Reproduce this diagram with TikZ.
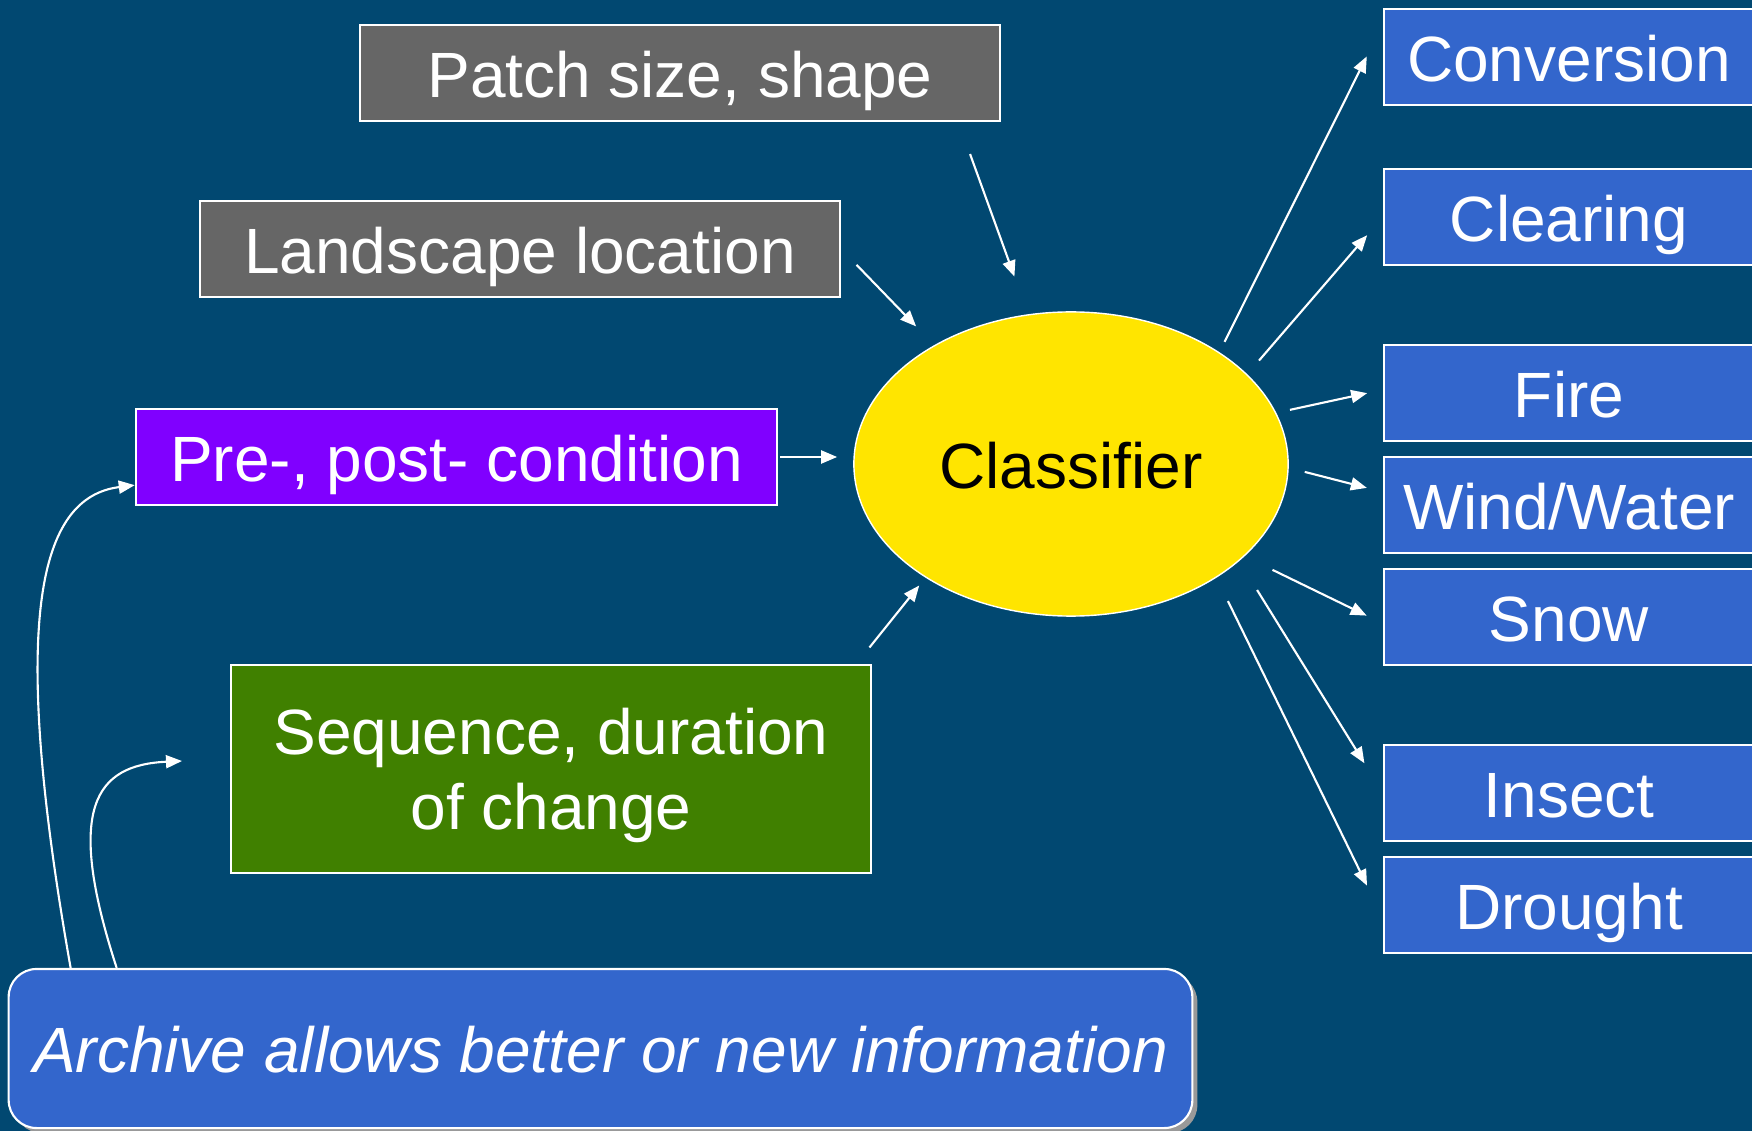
\documentclass[tikz,border=0pt]{standalone}
\usepackage{fontspec}
\setmainfont{Liberation Sans}
\usetikzlibrary{arrows.meta,shapes.geometric,shadows}
\definecolor{slidebg}{HTML}{014871}
\definecolor{boxgrey}{HTML}{666666}
\definecolor{boxblue}{HTML}{3366CC}
\definecolor{boxpurple}{HTML}{8000FF}
\definecolor{boxgreen}{HTML}{408000}
\definecolor{clfyellow}{HTML}{FFE500}
\tikzset{
  box/.style={draw=white, line width=0.6pt, text=white, inner sep=0pt,
    minimum height=0.96cm, align=center, text height=13.8pt, text depth=0pt,
    font=\fontsize{18.2}{21.3}\selectfont},
  greybox/.style={box, fill=boxgrey, minimum width=6.4cm},
  outbox/.style={box, fill=boxblue, minimum width=3.7cm},
  arr/.style={white, line width=0.6pt, -{Triangle[length=0.16cm,width=0.13cm]}},
}
\begin{document}
\begin{tikzpicture}[x=0.01cm, y=-0.01cm]
      \fill[slidebg] (0,0) rectangle (1752,1131);
      \useasboundingbox (0,0) rectangle (1752,1131);
      % --- inputs ---
      \node[greybox] (patch) at (680,73) {Patch size, shape};
      \node[greybox] (land) at (520,249) {Landscape location};
      \node[box, fill=boxpurple, minimum width=6.41cm] (pre) at (456.5,457) {Pre-, post- condition};
      \node[box, fill=boxgreen, minimum width=6.4cm, minimum height=2.08cm,
        text height={}] (seq) at (551,769) {Sequence, duration\\of change};
      % --- classifier ---
      \node[ellipse, draw=white, line width=0.4pt, fill=clfyellow, inner sep=0pt,
        minimum width=4.34cm, minimum height=3.04cm, text height=13.8pt, text depth=0pt,
        font=\fontsize{18.2}{22}\selectfont] (clf) at (1071,464) {Classifier};
      % --- outputs ---
      \foreach \name/\y/\txt in {conv/57/Conversion, clr/217/Clearing, fire/393/Fire,
          wind/505/Wind\slash Water, snow/617/Snow, ins/793/Insect, dr/905/Drought} {
        \node[outbox] (\name) at (1569,\y) {\txt};
      }
      % --- archive ---
      \node[box, fill=boxblue, rounded corners=0.28cm, minimum width=11.83cm,
        minimum height=1.59cm, font=\fontsize{18.2}{22}\selectfont\itshape,
        drop shadow={shadow xshift=0.05cm, shadow yshift=-0.05cm, fill=gray!80, opacity=1}]
        (arch) at (600.5,1048.5) {Archive allows better or new information};
      \coordinate (seqarr) at (182,761);
      % arrows into the classifier
      \draw[arr, shorten <=0.34cm, shorten >=0.40cm] (patch.-10) -- (clf.106);
      \draw[arr, shorten <=0.22cm, shorten >=0.26cm] (land.east) -- (clf.139);
      \draw[arr, shorten <=0.02cm, shorten >=0.16cm] (pre.east) -- (pre.east -| clf.west);
      \draw[arr, shorten <=0.21cm, shorten >=0.10cm] (seq.19) -- (clf.218);
      % arrows out of the classifier
      \foreach \a/\b/\s/\e in {37/conv.170/0.115/0.36, 27.5/clr.west/0.18/0.24,
          14.7/fire.179/0.14/0.16, -1.3/wind.176.3/0.165/0.165,
          -28.2/snow.182.5/0.31/0.18, -30.9/ins.west/0.34/0.35,
          -38.9/dr.184.6/0.26/0.36} {
        \draw[arr, shorten <=\s cm, shorten >=\e cm] (clf.\a) -- (\b);
      }
      % archive feeds
      \draw[arr] ([xshift=0.63cm]arch.north west) .. controls +(-62,-350) and +(-96,12) .. (pre.185.5);
      \draw[arr] ([xshift=1.09cm]arch.north west) .. controls +(-52,-160) and +(-87,4) .. (seqarr);
    \end{tikzpicture}
\end{document}
